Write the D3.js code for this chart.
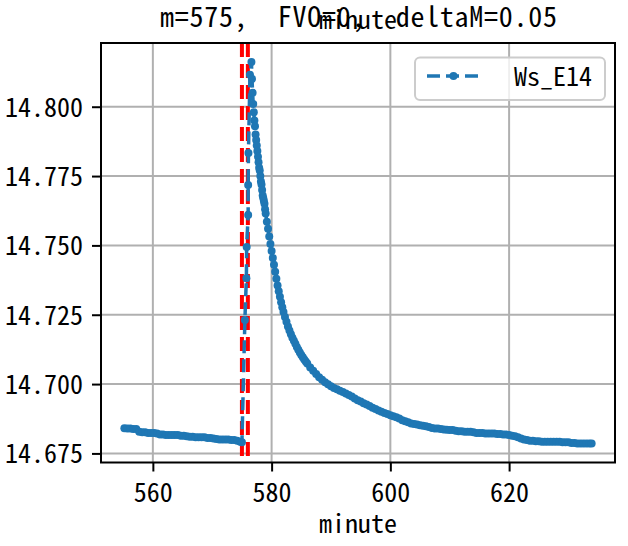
<!DOCTYPE html>
<html><head><meta charset="utf-8">
<script src="https://cdn.jsdelivr.net/npm/d3@7"></script>
<style>html,body{margin:0;padding:0;background:#fff;}svg{display:block;}</style>
</head><body>
<svg id="chart" width="628" height="546"></svg>
<script>
// ---------- data ----------
const titleText = "m=575,  FVO=0,  deltaM=0.05";
const xLabel = "minute";
const seriesName = "Ws_E14";
const xTicks = [560, 580, 600, 620];
const yTicks = [14.675, 14.700, 14.725, 14.750, 14.775, 14.800];
const markerLines = [575, 576];

const preTimes = [555.2,555.7,556.2,556.7,557.2,557.7,558.2,558.7,559.2,559.7,560.2,560.7,
  561.2,561.7,562.2,562.7,563.2,563.7,564.2,564.7,565.2,565.7,566.2,566.7,567.2,567.7,568.2,
  568.7,569.2,569.7,570.2,570.7,571.2,571.7,572.2,572.7,573.2,573.7,574.2,574.7,575.0];
const preValues = [14.6841,14.6840,14.6840,14.6838,14.6838,14.6828,14.6826,14.6826,14.6824,14.6824,
  14.6824,14.6822,14.6818,14.6818,14.6816,14.6816,14.6816,14.6816,14.6816,14.6814,14.6814,14.6812,
  14.6810,14.6810,14.6808,14.6808,14.6808,14.6808,14.6806,14.6806,14.6804,14.6802,14.6800,14.6800,
  14.6800,14.6800,14.6798,14.6798,14.6796,14.6792,14.6790];

const riseTimes = [575.5, 575.75, 575.8, 576.05, 576.05, 576.1, 576.35, 576.6];
const riseValues = [14.7231, 14.7382, 14.7494, 14.7610, 14.7718, 14.7833, 14.8115, 14.8161];

const decayTimes = [576.7,576.8,576.9,577.0,577.1,577.2,577.3,577.4,577.5,577.6,577.7,577.8,577.9,
  578.0,578.1,578.2,578.3,578.4,578.5,578.6,578.7,578.8,578.9,579.0,
  579.2,579.4,579.6,579.8,580.0,580.2,580.4,580.6,580.8,581.0,581.2,581.4,581.6,581.8,582.0,
  582.25,582.5,582.75,583.0,583.25,583.5,583.75,584.0,584.25,584.5,584.75,585.0,585.25,585.5,585.75,586.0,
  586.5,587.0,587.5,588.0,588.5,589.0,589.5,590.0,590.5,591.0,591.5,592.0,592.5,593.0,593.5,594.0,
  594.5,595.0,595.5,596.0,596.5,597.0,597.5,598.0,598.5,599.0,599.5,600.0,600.5,601.0,601.5,
  602.0,602.5,603.0,603.5,604.0,604.5,605.0,605.5,606.0,606.5,607.0,607.5,608.0,608.5,609.0,609.5,
  610.0,610.5,611.0,611.5,612.0,612.5,613.0,613.5,614.0,614.5,615.0,615.5,616.0,616.5,617.0,617.5,
  618.0,618.5,619.0,619.5,620.0,620.5,621.0,621.5,622.0,622.5,623.0,623.5,624.0,624.5,625.0,625.5,
  626.0,626.5,627.0,627.5,628.0,628.5,629.0,629.5,630.0,630.5,631.0,631.5,632.0,632.5,633.0,633.5,633.9];
const decayValues = [14.810,14.805,14.801,14.798,14.795,14.793,14.790,14.788,14.786,14.784,14.782,14.780,14.778,
  14.777,14.775,14.773,14.772,14.770,14.768,14.767,14.766,14.765,14.763,14.7615,
  14.7585,14.7560,14.7532,14.7505,14.7480,14.7455,14.7430,14.7405,14.7380,14.7355,14.7335,14.7315,14.7295,14.7277,14.7260,
  14.7242,14.7225,14.7208,14.7193,14.7180,14.7167,14.7156,14.7145,14.7134,14.7124,14.7114,14.7105,14.7097,14.7089,14.7081,14.7074,
  14.7060,14.7048,14.7036,14.7025,14.7016,14.7007,14.6999,14.6992,14.6986,14.6981,14.6976,14.6971,14.6966,14.6961,14.6955,14.6948,
  14.6942,14.6937,14.6931,14.6926,14.6921,14.6915,14.6910,14.6905,14.6900,14.6896,14.6892,14.6888,14.6884,14.6880,14.6876,
  14.6870,14.6866,14.6862,14.6858,14.6856,14.6854,14.6852,14.6850,14.6848,14.6845,14.6842,14.6840,14.6840,14.6838,14.6836,14.6835,
  14.6834,14.6834,14.6832,14.6830,14.6830,14.6828,14.6828,14.6828,14.6826,14.6824,14.6824,14.6824,14.6822,14.6822,14.6822,14.6822,
  14.6820,14.6820,14.6818,14.6818,14.6816,14.6814,14.6812,14.6808,14.6804,14.6800,14.6798,14.6796,14.6796,14.6794,14.6794,14.6792,
  14.6792,14.6792,14.6792,14.6792,14.6792,14.6792,14.6790,14.6790,14.6790,14.6788,14.6788,14.6786,14.6786,14.6786,14.6786,14.6786,14.6786];

// ---------- build ----------
const FONT = '"Noto Sans Mono CJK SC","Noto Sans Mono CJK JP","DejaVu Sans Mono",monospace';
const BLUE = "#1f77b4";
const points = [];
[[preTimes, preValues], [riseTimes, riseValues], [decayTimes, decayValues]].forEach(([ts, vs]) => {
  ts.forEach((t, i) => points.push({t: t, v: vs[i]}));
});

const svg = d3.select("#chart");
const L = 101, R = 615, T = 43, B = 462.5;

const tExt = d3.extent(points, d => d.t);
const vExt = d3.extent(points, d => d.v);
const tPad = (tExt[1] - tExt[0]) * 0.05;
const vPad = (vExt[1] - vExt[0]) * 0.05;
const x = d3.scaleLinear().domain([tExt[0] - tPad, tExt[1] + tPad]).range([L, R]);
const y = d3.scaleLinear().domain([vExt[0] - vPad, vExt[1] + vPad]).range([B, T]);

svg.append("rect").attr("width", 628).attr("height", 546).attr("fill", "#fff");

// grid
const grid = svg.append("g");
grid.selectAll("line.gx").data(xTicks).join("line")
  .attr("x1", d => x(d)).attr("x2", d => x(d)).attr("y1", T).attr("y2", B)
  .attr("stroke", "#b0b0b0").attr("stroke-width", 2);
grid.selectAll("line.gy").data(yTicks).join("line")
  .attr("y1", d => y(d)).attr("y2", d => y(d)).attr("x1", L).attr("x2", R)
  .attr("stroke", "#b0b0b0").attr("stroke-width", 2);

// red vertical dashed lines
svg.append("g").selectAll("line").data(markerLines).join("line")
  .attr("x1", d => x(d)).attr("x2", d => x(d)).attr("y1", T).attr("y2", B)
  .attr("stroke", "#ff0000").attr("stroke-width", 4).attr("stroke-dasharray", "14,7");

// series line + markers
const line = d3.line().x(d => x(d.t)).y(d => y(d.v));
svg.append("path").datum(points).attr("d", line)
  .attr("fill", "none").attr("stroke", BLUE).attr("stroke-width", 3.5)
  .attr("stroke-dasharray", "13,6");
svg.append("g").selectAll("circle").data(points).join("circle")
  .attr("cx", d => x(d.t)).attr("cy", d => y(d.v)).attr("r", 4).attr("fill", BLUE);

// axes
const xAxis = d3.axisBottom(x).tickValues(xTicks).tickSize(9).tickPadding(10).tickFormat(d3.format("d"));
const yAxis = d3.axisLeft(y).tickValues(yTicks).tickSize(9).tickPadding(9).tickFormat(d3.format(".3f"));
const gx = svg.append("g").attr("transform", `translate(0,${B})`).call(xAxis);
const gy = svg.append("g").attr("transform", `translate(${L},0)`).call(yAxis);
[gx, gy].forEach(g => {
  g.select(".domain").remove();
  g.selectAll(".tick line").attr("stroke", "#000").attr("stroke-width", 2);
  g.selectAll(".tick text").attr("fill", "#000").style("font-family", FONT).style("font-size", "26px");
});
gx.selectAll(".tick text").attr("dy", "0.78em");
gy.selectAll(".tick text").attr("dy", "0.36em");

// frame
svg.append("rect").attr("x", L).attr("y", T).attr("width", R - L).attr("height", B - T)
  .attr("fill", "none").attr("stroke", "#000").attr("stroke-width", 2);

// labels
svg.append("text").attr("x", (L + R) / 2).attr("y", 533).attr("text-anchor", "middle")
  .style("font-family", FONT).style("font-size", "26px").text(xLabel);
svg.append("text").attr("x", 160).attr("y", 27).attr("xml:space", "preserve")
  .style("white-space", "pre").attr("textLength", 397).attr("lengthAdjust", "spacing")
  .style("font-family", FONT).style("font-size", "28px").text(titleText);
svg.append("text").attr("x", (L + R) / 2).attr("y", 28.5).attr("text-anchor", "middle")
  .style("font-family", FONT).style("font-size", "26px").text(xLabel);

// legend
const lg = svg.append("g");
lg.append("rect").attr("x", 415).attr("y", 57.5).attr("width", 190).attr("height", 42.5)
  .attr("rx", 5).attr("fill", "#fff").attr("fill-opacity", 0.8)
  .attr("stroke", "#cccccc").attr("stroke-width", 2);
lg.append("line").attr("x1", 427).attr("x2", 480).attr("y1", 76).attr("y2", 76)
  .attr("stroke", BLUE).attr("stroke-width", 3.5).attr("stroke-dasharray", "13,6");
lg.append("circle").attr("cx", 453.5).attr("cy", 76).attr("r", 4).attr("fill", BLUE);
lg.append("text").attr("x", 514).attr("y", 86).style("font-family", FONT).style("font-size", "26px")
  .text(seriesName);
</script>
</body></html>
